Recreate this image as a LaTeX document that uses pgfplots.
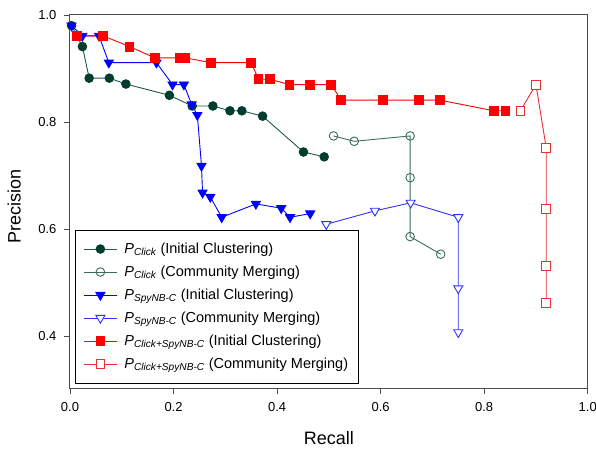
\documentclass[border=0pt]{standalone}
\usepackage{fontspec}
\setmainfont{Liberation Sans}
\usepackage{pgfplots}
\pgfplotsset{compat=1.18}
\definecolor{gfill}{HTML}{003D2E}
\definecolor{gline}{HTML}{1F5A45}
\definecolor{gopen}{HTML}{3A6E58}
\definecolor{bline}{HTML}{0000FF}
\definecolor{bopen}{HTML}{3030FF}
\definecolor{rline}{HTML}{FF0000}
\definecolor{ropen}{HTML}{E83030}
\newcommand{\Pc}[1]{{\itshape P}\textsubscript{\itshape #1}}
\begin{document}
\begin{tikzpicture}
\begin{axis}[
  width=517.7pt, height=373pt, scale only axis,
  xmin=0, xmax=1, ymin=0.303, ymax=1,
  xtick={0,0.2,0.4,0.6,0.8,1.0},
  ytick={0.4,0.6,0.8,1.0},
  xticklabels={0.0,0.2,0.4,0.6,0.8,1.0},
  yticklabels={0.4,0.6,0.8,1.0},
  xtick pos=left, ytick pos=left,
  tick align=outside,
  major tick length=6pt,
  tick style={black!70, line width=0.8pt},
  axis line style={black!70, line width=1pt},
  ticklabel style={font=\fontsize{13}{15}\selectfont},
  xticklabel style={yshift=-5pt},
  yticklabel style={xshift=-4pt},
  xlabel={Recall}, ylabel={Precision},
  label style={font=\fontsize{18}{20}\selectfont},
  xlabel style={at={(axis description cs:0.5,-0.152)}, anchor=base},
  ylabel style={at={(axis description cs:-0.0952,0.4855)}, anchor=base},
  legend cell align=left,
  legend style={at={(0,0)}, anchor=south west, xshift=5pt, yshift=4.5pt,
    draw=black, line width=0.9pt, font=\fontsize{14.5}{16}\selectfont,
    row sep=7pt, inner xsep=8pt, inner ysep=11pt,
    /tikz/every odd column/.append style={column sep=5pt}},
  legend image code/.code={
    \draw[mark repeat=2,mark phase=2] plot coordinates {(0pt,0pt)(16.5pt,0pt)(33pt,0pt)};},
  every axis plot/.append style={line width=0.9pt},
]
\addplot[gline, mark=*, mark size=4.3pt, mark options={fill=gfill, draw=gfill}] coordinates {
(0.003,0.980)(0.024,0.941)(0.037,0.882)(0.076,0.882)(0.108,0.871)(0.192,0.850)(0.236,0.830)(0.276,0.830)(0.309,0.821)(0.332,0.821)(0.372,0.811)(0.451,0.744)(0.491,0.735)};
\addlegendentry{\Pc{Click} (Initial Clustering)}
\addplot[gopen, mark=o, mark size=4.3pt, mark options={fill=white, draw=gopen}] coordinates {
(0.509,0.774)(0.549,0.764)(0.657,0.774)(0.657,0.696)(0.657,0.586)(0.716,0.553)};
\addlegendentry{\Pc{Click} (Community Merging)}
\addplot[bline, mark=triangle*, mark size=5.2pt, mark options={fill=bline, draw=bline, rotate=180}] coordinates {
(0.003,0.980)(0.024,0.961)(0.056,0.961)(0.075,0.911)(0.167,0.911)(0.198,0.870)(0.220,0.870)(0.235,0.833)(0.246,0.813)(0.254,0.718)(0.256,0.668)(0.271,0.660)(0.293,0.622)(0.359,0.647)(0.408,0.639)(0.425,0.622)(0.464,0.629)};
\addlegendentry{\Pc{SpyNB-C} (Initial Clustering)}
\addplot[bopen, mark=triangle*, mark size=5.2pt, mark options={fill=white, draw=bopen, rotate=180}] coordinates {
(0.495,0.609)(0.589,0.634)(0.658,0.649)(0.750,0.622)(0.750,0.489)(0.750,0.407)};
\addlegendentry{\Pc{SpyNB-C} (Community Merging)}
\addplot[rline, mark=square*, mark size=4.4pt, mark options={fill=rline, draw=rline}] coordinates {
(0.014,0.961)(0.064,0.961)(0.115,0.941)(0.164,0.920)(0.213,0.920)(0.222,0.920)(0.272,0.911)(0.350,0.911)(0.364,0.880)(0.386,0.880)(0.424,0.870)(0.464,0.870)(0.504,0.870)(0.524,0.841)(0.604,0.841)(0.674,0.841)(0.714,0.841)(0.819,0.821)(0.841,0.821)};
\addlegendentry{\Pc{Click+SpyNB-C} (Initial Clustering)}
\addplot[ropen, mark=square*, mark size=4.4pt, mark options={fill=white, draw=ropen}] coordinates {
(0.870,0.821)(0.900,0.870)(0.920,0.751)(0.920,0.638)(0.920,0.531)(0.920,0.462)};
\addlegendentry{\Pc{Click+SpyNB-C} (Community Merging)}
\end{axis}
\pgfresetboundingbox
\path ([xshift=-70pt,yshift=-61pt]current axis.south west) rectangle ([xshift=8.3pt,yshift=15pt]current axis.north east);
\end{tikzpicture}
\end{document}
